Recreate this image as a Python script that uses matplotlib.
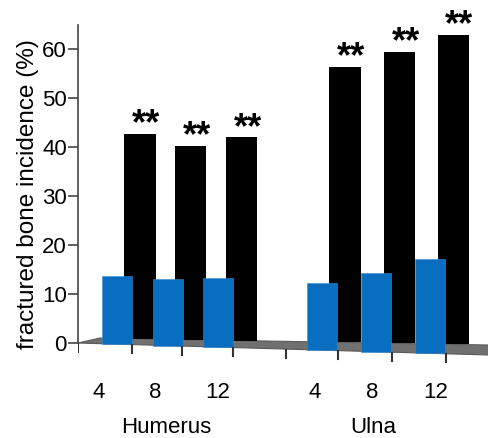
import numpy as np
import matplotlib
matplotlib.use('agg')
import matplotlib.pyplot as plt
from matplotlib.patches import Polygon

plt.rcParams['font.family'] = ['Liberation Sans', 'DejaVu Sans']

# data
groups = ['Humerus', 'Ulna']
weeks = ['4', '8', '12', '4', '8', '12']
treated = [42.7, 40.3, 42.0, 56.3, 59.4, 62.9]   # black, back row
control = [13.7, 13.0, 13.2, 12.2, 14.3, 17.1]   # blue, front row
stars = ['**', '**', '**', '**', '**', '**']

# layout
xpos = np.array([0, 0.97, 1.94, 3.93, 4.97, 6.0])
xmin, xmax = -0.747, 7.126
depth_dx = 0.44                      # pseudo 3d offset of the back row
front_slope, back_slope = -0.311, -0.192
back_y0 = 1.02
blue = '#0a6ec0'
lab_shift = [-0.36, -0.24, -0.02, -0.15, -0.08, 0.1]


def front(x):
    return (np.asarray(x) - xmin) * front_slope


def back(x):
    return back_y0 + (np.asarray(x) - xmin - 0.42) * back_slope


fig = plt.figure(figsize=(4.89, 4.38), dpi=100)
ax = fig.add_axes([78 / 489, 0.1721, 1 - 78 / 489, 0.7719])
ax.set_xlim(xmin, xmax)
ax.set_ylim(-4, 65)

# floor
xr = xmax + 0.5
floor = Polygon([(xmin, 0), (xr, front(xr)), (xr, back(xr)),
                 (xmin + 0.42, back(xmin + 0.42))], closed=True,
                facecolor='#707070', edgecolor='#5a5a5a', lw=0.8, zorder=1)
ax.add_patch(floor)

# back row (black)
xb = xpos + depth_dx
bb = back(xb)
ax.bar(xb, np.array(treated) - bb, bottom=bb, width=0.6, color='black', zorder=2)

# front row (blue)
bf = front(xpos)
ax.bar(xpos, np.array(control) - bf, bottom=bf, width=0.575, color=blue,
       edgecolor='#3d8ad0', lw=0.4, zorder=3)

# significance
for x, v, s in zip(xb, treated, stars):
    ax.text(x + 0.12, v - 0.1, s, ha='center', va='baseline', fontsize=26,
            fontweight='bold', zorder=4)

# ticks along the floor front edge
tick_x = [xmin] + list(xpos[:3] + 0.28) + [xpos[3] - 0.69] + list(xpos[3:] + 0.3)
for tx in tick_x:
    y0 = front(tx) - 0.15
    ax.plot([tx, tx], [y0, y0 - 1.6], color='#333333', lw=1.5, zorder=4)

for x, s, w in zip(xpos, lab_shift, weeks):
    ax.text(x + s, -10.1, w, ha='center', va='center', fontsize=16, clip_on=False)

ax.text(np.mean(xpos[:3]) - 0.03, -18.4, groups[0], ha='center', va='baseline', fontsize=16)
ax.text(np.mean(xpos[3:]) - 0.06, -18.4, groups[1], ha='center', va='baseline', fontsize=16)

# y axis
for sp in ['top', 'right', 'bottom']:
    ax.spines[sp].set_visible(False)
ax.spines['left'].set_bounds(0, 65)
ax.spines['left'].set_color('#444444')
ax.spines['left'].set_linewidth(1.2)
ax.set_xticks([])
ax.set_yticks(range(0, 61, 10))
ax.tick_params(axis='y', length=7, width=1.2, color='#444444', labelsize=16, pad=1)
ax.set_ylabel('fractured bone incidence (%)', fontsize=17.5, labelpad=2)

fig.savefig('out.png', dpi=100)
plt.close(fig)
